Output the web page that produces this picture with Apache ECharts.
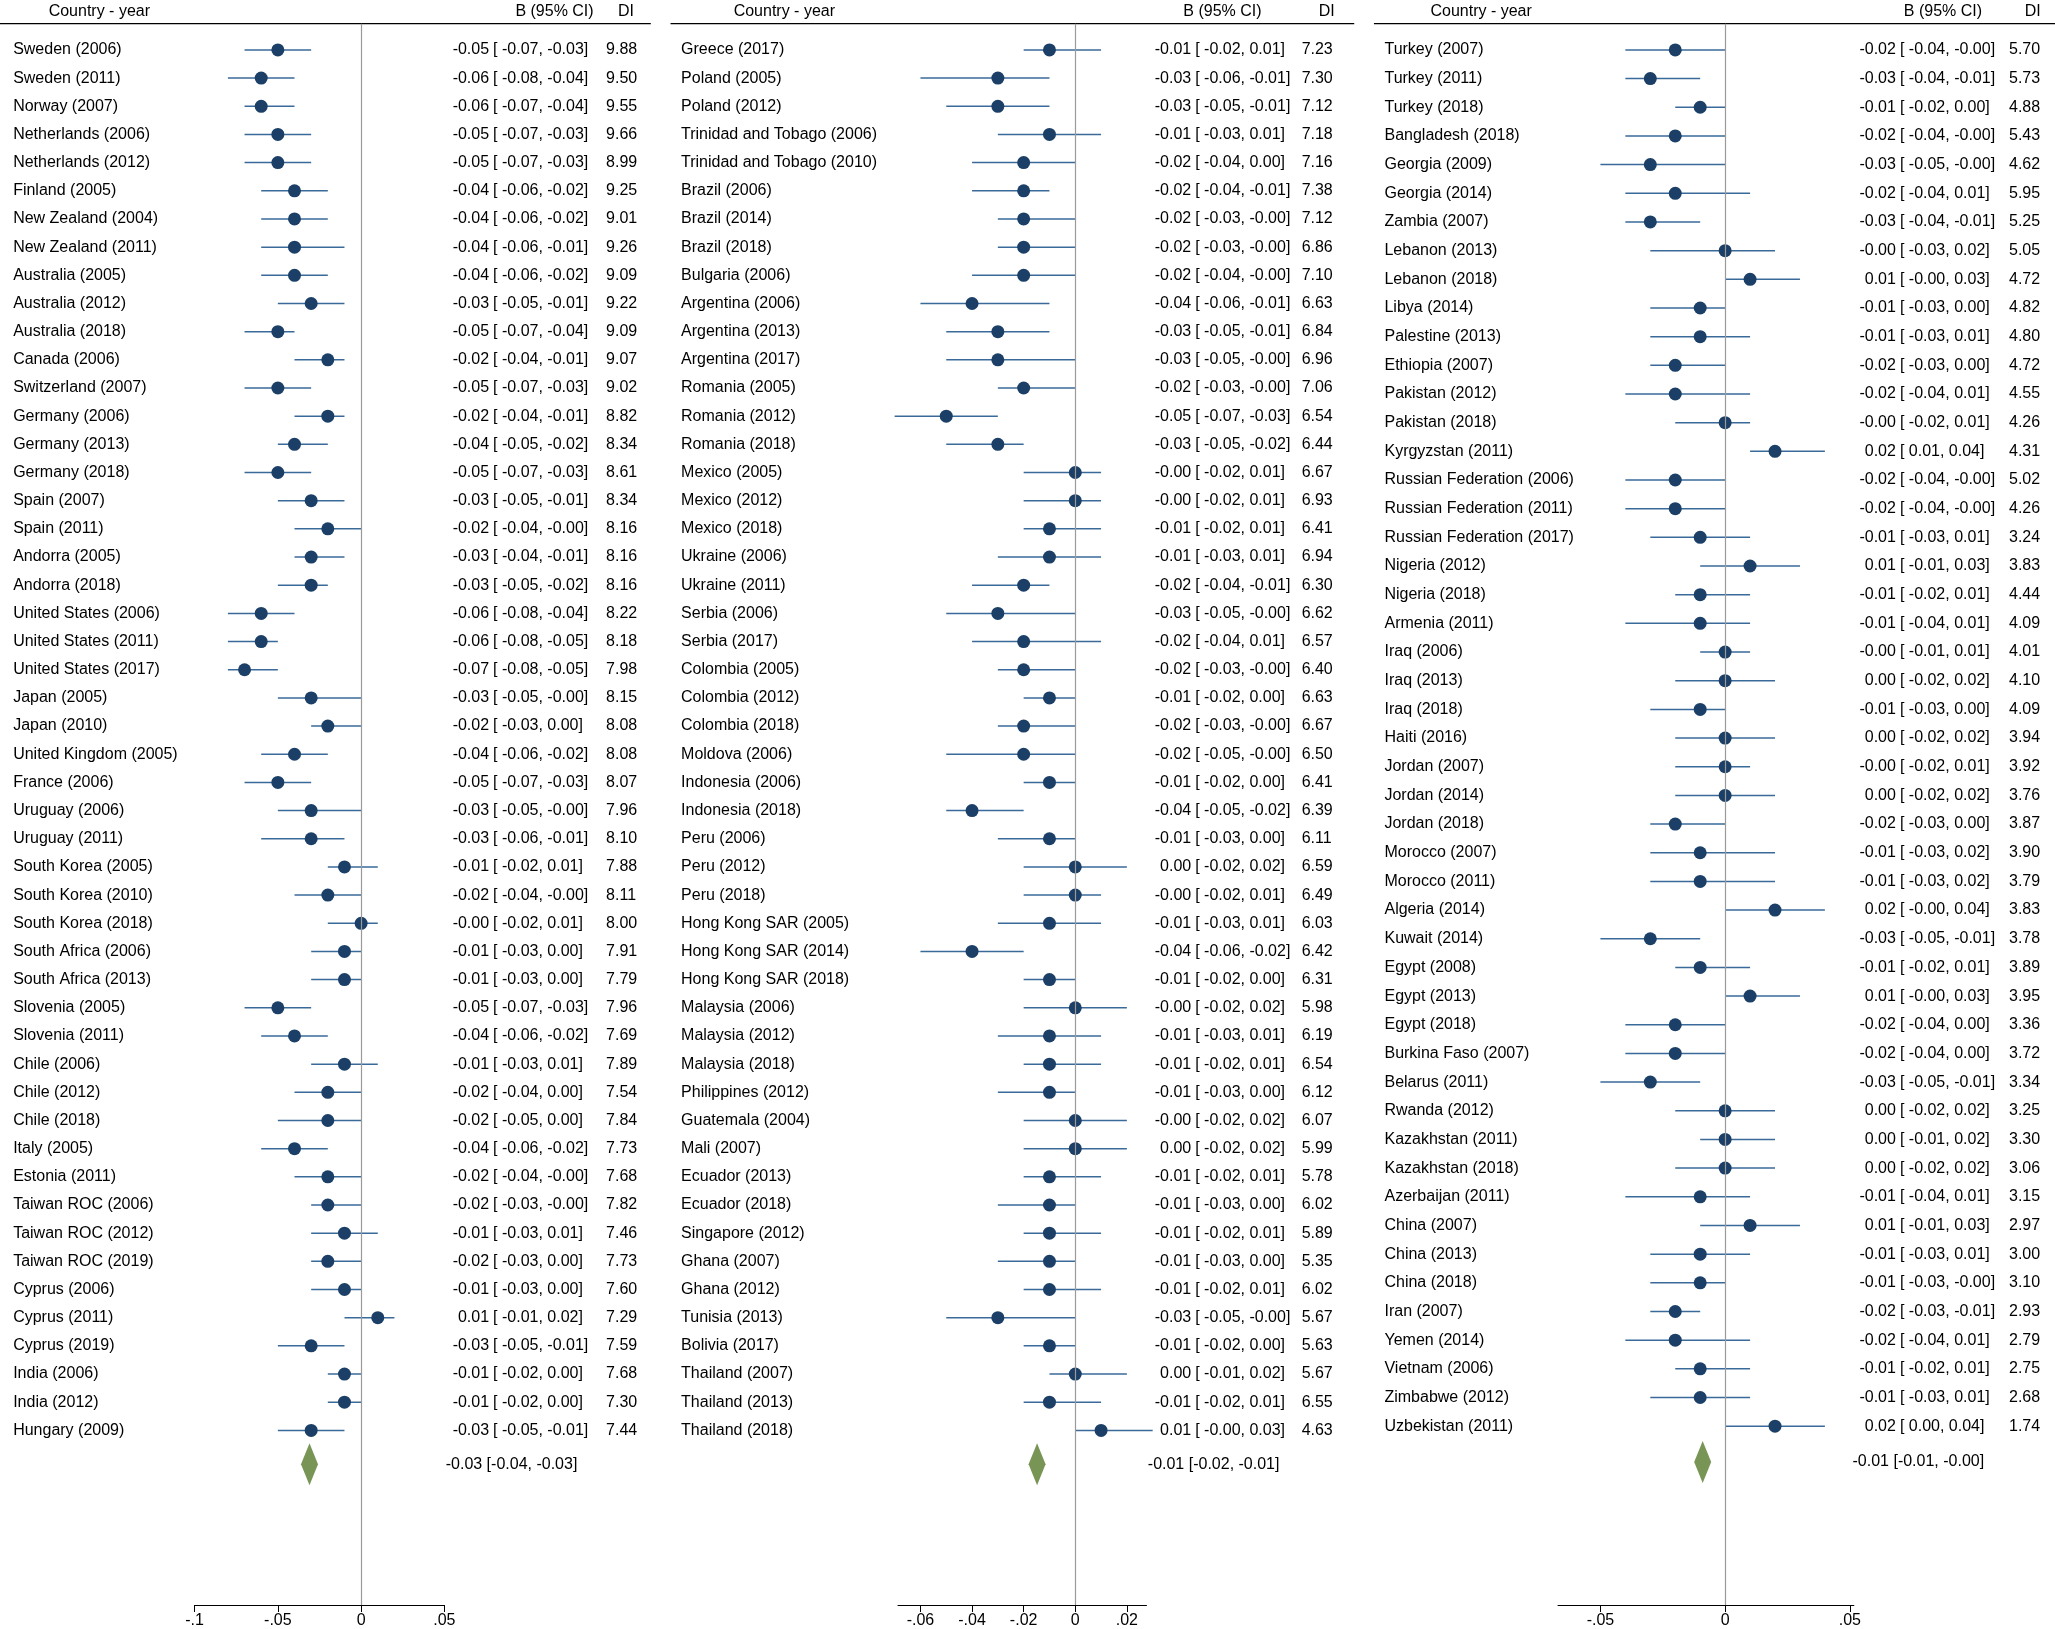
<!DOCTYPE html>
<html><head><meta charset="utf-8">
<script src="https://cdn.jsdelivr.net/npm/echarts@6/dist/echarts.min.js"></script>
<style>html,body{margin:0;padding:0;background:#fff}#c{width:2055px;height:1629px}</style>
</head><body><div id="c"></div>
<script>
// ---------- Panel 1 ----------
const p1Labels=["Sweden (2006)","Sweden (2011)","Norway (2007)","Netherlands (2006)","Netherlands (2012)","Finland (2005)","New Zealand (2004)","New Zealand (2011)","Australia (2005)","Australia (2012)","Australia (2018)","Canada (2006)","Switzerland (2007)","Germany (2006)","Germany (2013)","Germany (2018)","Spain (2007)","Spain (2011)","Andorra (2005)","Andorra (2018)","United States (2006)","United States (2011)","United States (2017)","Japan (2005)","Japan (2010)","United Kingdom (2005)","France (2006)","Uruguay (2006)","Uruguay (2011)","South Korea (2005)","South Korea (2010)","South Korea (2018)","South Africa (2006)","South Africa (2013)","Slovenia (2005)","Slovenia (2011)","Chile (2006)","Chile (2012)","Chile (2018)","Italy (2005)","Estonia (2011)","Taiwan ROC (2006)","Taiwan ROC (2012)","Taiwan ROC (2019)","Cyprus (2006)","Cyprus (2011)","Cyprus (2019)","India (2006)","India (2012)","Hungary (2009)"];
const p1B=[-0.05,-0.06,-0.06,-0.05,-0.05,-0.04,-0.04,-0.04,-0.04,-0.03,-0.05,-0.02,-0.05,-0.02,-0.04,-0.05,-0.03,-0.02,-0.03,-0.03,-0.06,-0.06,-0.07,-0.03,-0.02,-0.04,-0.05,-0.03,-0.03,-0.01,-0.02,-0.00,-0.01,-0.01,-0.05,-0.04,-0.01,-0.02,-0.02,-0.04,-0.02,-0.02,-0.01,-0.02,-0.01,0.01,-0.03,-0.01,-0.01,-0.03];
const p1Lo=[-0.07,-0.08,-0.07,-0.07,-0.07,-0.06,-0.06,-0.06,-0.06,-0.05,-0.07,-0.04,-0.07,-0.04,-0.05,-0.07,-0.05,-0.04,-0.04,-0.05,-0.08,-0.08,-0.08,-0.05,-0.03,-0.06,-0.07,-0.05,-0.06,-0.02,-0.04,-0.02,-0.03,-0.03,-0.07,-0.06,-0.03,-0.04,-0.05,-0.06,-0.04,-0.03,-0.03,-0.03,-0.03,-0.01,-0.05,-0.02,-0.02,-0.05];
const p1Hi=[-0.03,-0.04,-0.04,-0.03,-0.03,-0.02,-0.02,-0.01,-0.02,-0.01,-0.04,-0.01,-0.03,-0.01,-0.02,-0.03,-0.01,-0.00,-0.01,-0.02,-0.04,-0.05,-0.05,-0.00,0.00,-0.02,-0.03,-0.00,-0.01,0.01,-0.00,0.01,0.00,0.00,-0.03,-0.02,0.01,0.00,0.00,-0.02,-0.00,-0.00,0.01,0.00,0.00,0.02,-0.01,0.00,0.00,-0.01];
const p1DI=["9.88","9.50","9.55","9.66","8.99","9.25","9.01","9.26","9.09","9.22","9.09","9.07","9.02","8.82","8.34","8.61","8.34","8.16","8.16","8.16","8.22","8.18","7.98","8.15","8.08","8.08","8.07","7.96","8.10","7.88","8.11","8.00","7.91","7.79","7.96","7.69","7.89","7.54","7.84","7.73","7.68","7.82","7.46","7.73","7.60","7.29","7.59","7.68","7.30","7.44"];
const p1Sum={b:-0.031,text:"-0.03 [-0.04, -0.03]"};
// ---------- Panel 2 ----------
const p2Labels=["Greece (2017)","Poland (2005)","Poland (2012)","Trinidad and Tobago (2006)","Trinidad and Tobago (2010)","Brazil (2006)","Brazil (2014)","Brazil (2018)","Bulgaria (2006)","Argentina (2006)","Argentina (2013)","Argentina (2017)","Romania (2005)","Romania (2012)","Romania (2018)","Mexico (2005)","Mexico (2012)","Mexico (2018)","Ukraine (2006)","Ukraine (2011)","Serbia (2006)","Serbia (2017)","Colombia (2005)","Colombia (2012)","Colombia (2018)","Moldova (2006)","Indonesia (2006)","Indonesia (2018)","Peru (2006)","Peru (2012)","Peru (2018)","Hong Kong SAR (2005)","Hong Kong SAR (2014)","Hong Kong SAR (2018)","Malaysia (2006)","Malaysia (2012)","Malaysia (2018)","Philippines (2012)","Guatemala (2004)","Mali (2007)","Ecuador (2013)","Ecuador (2018)","Singapore (2012)","Ghana (2007)","Ghana (2012)","Tunisia (2013)","Bolivia (2017)","Thailand (2007)","Thailand (2013)","Thailand (2018)"];
const p2B=[-0.01,-0.03,-0.03,-0.01,-0.02,-0.02,-0.02,-0.02,-0.02,-0.04,-0.03,-0.03,-0.02,-0.05,-0.03,-0.00,-0.00,-0.01,-0.01,-0.02,-0.03,-0.02,-0.02,-0.01,-0.02,-0.02,-0.01,-0.04,-0.01,0.00,-0.00,-0.01,-0.04,-0.01,-0.00,-0.01,-0.01,-0.01,-0.00,0.00,-0.01,-0.01,-0.01,-0.01,-0.01,-0.03,-0.01,0.00,-0.01,0.01];
const p2Lo=[-0.02,-0.06,-0.05,-0.03,-0.04,-0.04,-0.03,-0.03,-0.04,-0.06,-0.05,-0.05,-0.03,-0.07,-0.05,-0.02,-0.02,-0.02,-0.03,-0.04,-0.05,-0.04,-0.03,-0.02,-0.03,-0.05,-0.02,-0.05,-0.03,-0.02,-0.02,-0.03,-0.06,-0.02,-0.02,-0.03,-0.02,-0.03,-0.02,-0.02,-0.02,-0.03,-0.02,-0.03,-0.02,-0.05,-0.02,-0.01,-0.02,-0.00];
const p2Hi=[0.01,-0.01,-0.01,0.01,0.00,-0.01,-0.00,-0.00,-0.00,-0.01,-0.01,-0.00,-0.00,-0.03,-0.02,0.01,0.01,0.01,0.01,-0.01,-0.00,0.01,-0.00,0.00,-0.00,-0.00,0.00,-0.02,0.00,0.02,0.01,0.01,-0.02,0.00,0.02,0.01,0.01,0.00,0.02,0.02,0.01,0.00,0.01,0.00,0.01,-0.00,0.00,0.02,0.01,0.03];
const p2DI=["7.23","7.30","7.12","7.18","7.16","7.38","7.12","6.86","7.10","6.63","6.84","6.96","7.06","6.54","6.44","6.67","6.93","6.41","6.94","6.30","6.62","6.57","6.40","6.63","6.67","6.50","6.41","6.39","6.11","6.59","6.49","6.03","6.42","6.31","5.98","6.19","6.54","6.12","6.07","5.99","5.78","6.02","5.89","5.35","6.02","5.67","5.63","5.67","6.55","4.63"];
const p2Sum={b:-0.0148,text:"-0.01 [-0.02, -0.01]"};
// ---------- Panel 3 ----------
const p3Labels=["Turkey (2007)","Turkey (2011)","Turkey (2018)","Bangladesh (2018)","Georgia (2009)","Georgia (2014)","Zambia (2007)","Lebanon (2013)","Lebanon (2018)","Libya (2014)","Palestine (2013)","Ethiopia (2007)","Pakistan (2012)","Pakistan (2018)","Kyrgyzstan (2011)","Russian Federation (2006)","Russian Federation (2011)","Russian Federation (2017)","Nigeria (2012)","Nigeria (2018)","Armenia (2011)","Iraq (2006)","Iraq (2013)","Iraq (2018)","Haiti (2016)","Jordan (2007)","Jordan (2014)","Jordan (2018)","Morocco (2007)","Morocco (2011)","Algeria (2014)","Kuwait (2014)","Egypt (2008)","Egypt (2013)","Egypt (2018)","Burkina Faso (2007)","Belarus (2011)","Rwanda (2012)","Kazakhstan (2011)","Kazakhstan (2018)","Azerbaijan (2011)","China (2007)","China (2013)","China (2018)","Iran (2007)","Yemen (2014)","Vietnam (2006)","Zimbabwe (2012)","Uzbekistan (2011)"];
const p3B=[-0.02,-0.03,-0.01,-0.02,-0.03,-0.02,-0.03,-0.00,0.01,-0.01,-0.01,-0.02,-0.02,-0.00,0.02,-0.02,-0.02,-0.01,0.01,-0.01,-0.01,-0.00,0.00,-0.01,0.00,-0.00,0.00,-0.02,-0.01,-0.01,0.02,-0.03,-0.01,0.01,-0.02,-0.02,-0.03,0.00,0.00,0.00,-0.01,0.01,-0.01,-0.01,-0.02,-0.02,-0.01,-0.01,0.02];
const p3Lo=[-0.04,-0.04,-0.02,-0.04,-0.05,-0.04,-0.04,-0.03,-0.00,-0.03,-0.03,-0.03,-0.04,-0.02,0.01,-0.04,-0.04,-0.03,-0.01,-0.02,-0.04,-0.01,-0.02,-0.03,-0.02,-0.02,-0.02,-0.03,-0.03,-0.03,-0.00,-0.05,-0.02,-0.00,-0.04,-0.04,-0.05,-0.02,-0.01,-0.02,-0.04,-0.01,-0.03,-0.03,-0.03,-0.04,-0.02,-0.03,0.00];
const p3Hi=[-0.00,-0.01,0.00,-0.00,-0.00,0.01,-0.01,0.02,0.03,0.00,0.01,0.00,0.01,0.01,0.04,-0.00,-0.00,0.01,0.03,0.01,0.01,0.01,0.02,0.00,0.02,0.01,0.02,0.00,0.02,0.02,0.04,-0.01,0.01,0.03,0.00,0.00,-0.01,0.02,0.02,0.02,0.01,0.03,0.01,-0.00,-0.01,0.01,0.01,0.01,0.04];
const p3DI=["5.70","5.73","4.88","5.43","4.62","5.95","5.25","5.05","4.72","4.82","4.80","4.72","4.55","4.26","4.31","5.02","4.26","3.24","3.83","4.44","4.09","4.01","4.10","4.09","3.94","3.92","3.76","3.87","3.90","3.79","3.83","3.78","3.89","3.95","3.36","3.72","3.34","3.25","3.30","3.06","3.15","2.97","3.00","3.10","2.93","2.79","2.75","2.68","1.74"];
const p3Sum={b:-0.009,text:"-0.01 [-0.01, -0.00]"};
const p1Ticks=[-0.1,-0.05,0,0.05], p2Ticks=[-0.06,-0.04,-0.02,0,0.02], p3Ticks=[-0.05,0,0.05];

const S=2055/1563;
const fmt=v=>((v<0||Object.is(v,-0))?'-':'')+Math.abs(v).toFixed(2);
const FONT='"Liberation Sans", Arial, sans-serif';
const FS=16;
const panels=[
 {labels:p1Labels,b:p1B,lo:p1Lo,hi:p1Hi,di:p1DI,sum:p1Sum,ticks:p1Ticks,xmin:-0.1,xmax:0.05,gl:148*S,gr:338*S,row0:38,step:21.45,sumIdx:50.2,tx:[10,372,461],head:[37,392,470],hl:[0,495]},
 {labels:p2Labels,b:p2B,lo:p2Lo,hi:p2Hi,di:p2DI,sum:p2Sum,ticks:p2Ticks,xmin:-0.0687,xmax:0.0276,gl:683*S,gr:872*S,row0:38,step:21.45,sumIdx:50.2,tx:[518,906,990],head:[558,900,1003],hl:[510,1030]},
 {labels:p3Labels,b:p3B,lo:p3Lo,hi:p3Hi,di:p3DI,sum:p3Sum,ticks:p3Ticks,xmin:-0.067,xmax:0.0516,gl:1185*S,gr:1410*S,row0:38,step:21.83,sumIdx:49.25,tx:[1053,1442,1528],head:[1088,1448,1540],hl:[1045,1563]}
];
const topY=18*S, botY=1222*S;
const grids=[],xAxes=[],yAxes=[],series=[],graphics=[];
panels.forEach((p,k)=>{
  const r0=p.row0*S, st=p.step*S;
  const ymin=-(r0-topY)/st, ymax=(botY-r0)/st;
  grids.push({left:p.gl,width:p.gr-p.gl,top:topY,height:botY-topY});
  xAxes.push({gridIndex:k,type:'value',min:p.xmin,max:p.xmax,position:'bottom',splitLine:{show:false},
    axisLine:{onZero:false,lineStyle:{color:'#000',width:1}},
    axisTick:{length:7,lineStyle:{color:'#000'},customValues:p.ticks},
    axisLabel:{customValues:p.ticks,color:'#000',fontSize:FS,fontFamily:FONT,margin:8,
      formatter:v=>{if(Math.abs(v)<1e-9)return '0';let s=String(+v.toFixed(3));return s.replace('0.','.');}}});
  yAxes.push({gridIndex:k,type:'value',min:ymin,max:ymax,inverse:true,show:false});
  const rows=p.labels.map((l,i)=>[p.lo[i],p.hi[i],i]);
  series.push({type:'custom',xAxisIndex:k,yAxisIndex:k,data:rows,silent:true,
    renderItem:(params,api)=>{const a=api.coord([api.value(0),api.value(2)]),b=api.coord([api.value(1),api.value(2)]);
      return {type:'line',shape:{x1:a[0],y1:a[1],x2:b[0],y2:b[1]},style:{stroke:'#3a6a99',lineWidth:1.5}};},
    markLine:{silent:true,symbol:'none',label:{show:false},lineStyle:{color:'#9a9a9a',type:'solid',width:1.2},data:[{xAxis:0}]},z:2});
  series.push({type:'scatter',xAxisIndex:k,yAxisIndex:k,data:p.b.map((v,i)=>[v,i]),symbol:'circle',symbolSize:13,
    itemStyle:{color:'#1b3f66',opacity:1},silent:true,z:3});
  series.push({type:'scatter',xAxisIndex:k,yAxisIndex:k,data:[[p.sum.b,p.sumIdx]],symbol:'diamond',symbolSize:[17,42],
    itemStyle:{color:'#587a2c'},silent:true,z:3});
  const textData=p.labels.map((l,i)=>[0,i,l,fmt(p.b[i]),'[ '+fmt(p.lo[i])+', '+fmt(p.hi[i])+']',p.di[i]]);
  series.push({type:'custom',xAxisIndex:k,yAxisIndex:k,data:textData,silent:true,clip:false,
    encode:{x:0,y:1},
    renderItem:(params,api)=>{const i=params.dataIndex,d=textData[i];const y=api.coord([0,d[1]])[1];
      const st={fill:'#000',fontSize:FS,fontFamily:FONT,textVerticalAlign:'middle'};
      return {type:'group',children:[
        {type:'text',style:Object.assign({},st,{x:p.tx[0]*S,y:y,text:d[2],textAlign:'left'})},
        {type:'text',style:Object.assign({},st,{x:p.tx[1]*S,y:y,text:d[3],textAlign:'right'})},
        {type:'text',style:Object.assign({},st,{x:p.tx[1]*S+4,y:y,text:d[4],textAlign:'left'})},
        {type:'text',style:Object.assign({},st,{x:p.tx[2]*S,y:y,text:d[5],textAlign:'left'})}]};}});
  series.push({type:'custom',xAxisIndex:k,yAxisIndex:k,data:[[0,p.sumIdx]],silent:true,clip:false,
    renderItem:(params,api)=>{const y=api.coord([0,p.sumIdx])[1];
      return {type:'text',style:{x:(p.tx[1]-33)*S,y:y,text:p.sum.text,fill:'#000',fontSize:FS,fontFamily:FONT,textVerticalAlign:'middle'}};}});
  graphics.push({type:'line',shape:{x1:p.hl[0]*S,y1:topY,x2:p.hl[1]*S,y2:topY},style:{stroke:'#000',lineWidth:1.2}});
  [['Country - year',p.head[0]],['B (95% CI)',p.head[1]],['DI',p.head[2]]].forEach(h=>{
    graphics.push({type:'text',x:h[1]*S,y:topY-4,style:{text:h[0],fill:'#000',fontSize:FS,fontFamily:FONT,textVerticalAlign:'bottom'}});});
});
const chart=echarts.init(document.getElementById('c'));
chart.setOption({animation:false,backgroundColor:'#fff',grid:grids,xAxis:xAxes,yAxis:yAxes,series:series,graphic:graphics});
</script></body></html>
